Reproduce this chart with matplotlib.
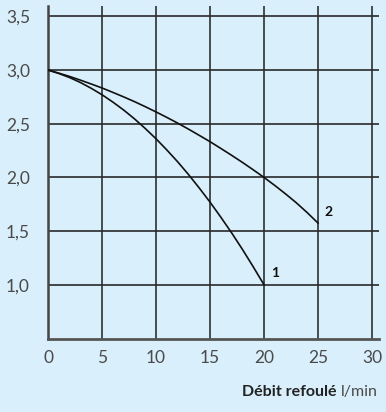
import matplotlib
matplotlib.use("Agg")
import matplotlib.pyplot as plt

flow_1 = [0, 1, 2, 3, 4, 5, 6, 7, 8, 9, 10, 11, 12, 13, 14, 15, 16, 17, 18, 19, 20]
head_1 = [3.0, 2.968, 2.93, 2.884, 2.83, 2.77, 2.702, 2.628, 2.546, 2.456, 2.36,
          2.256, 2.146, 2.028, 1.902, 1.77, 1.63, 1.484, 1.33, 1.168, 1.0]
flow_2 = [0, 1, 2, 3, 4, 5, 6, 7, 8, 9, 10, 11, 12, 13, 14, 15, 16, 17, 18, 19, 20,
          21, 22, 23, 24, 25]
head_2 = [3.0, 2.971, 2.94, 2.906, 2.87, 2.833, 2.792, 2.75, 2.706, 2.659, 2.61,
          2.559, 2.506, 2.45, 2.392, 2.333, 2.27, 2.206, 2.14, 2.071, 2.0,
          1.925, 1.846, 1.763, 1.672, 1.575]
x_ticks = [0, 5, 10, 15, 20, 25, 30]
y_ticks = [1.0, 1.5, 2.0, 2.5, 3.0, 3.5]
y_labels = ["1,0", "1,5", "2,0", "2,5", "3,0", "3,5"]

BG = "#d9effb"
TXT = "#4a4a4a"
plt.rcParams["font.family"] = ["Lato", "DejaVu Sans"]

fig = plt.figure(figsize=(3.86, 4.12), dpi=100, facecolor=BG)
ax = fig.add_axes([48 / 386, 1 - 338.5 / 412, (378.5 - 48) / 386, (338.5 - 5.6) / 412])
ax.set_facecolor(BG)
ax.set_xlim(0, 30.6)
ax.set_ylim(0.5, 3.6)

for x in x_ticks[1:]:
    ax.axvline(x, color="#3a3f42", lw=1.3, zorder=1)
for y in y_ticks:
    ax.axhline(y, color="#2a2a2a", lw=1.2, zorder=1)

ax.plot(flow_1, head_1, color="#111111", lw=1.2, zorder=3)
ax.plot(flow_2, head_2, color="#111111", lw=1.2, zorder=3)
ax.text(21.0, 1.11, "1", fontsize=10, fontweight="bold", color="#111111", ha="center", va="center")
ax.text(26.0, 1.68, "2", fontsize=10, fontweight="bold", color="#111111", ha="center", va="center")

for side in ["top", "right"]:
    ax.spines[side].set_visible(False)
ax.spines["left"].set_color("#444444")
ax.spines["left"].set_linewidth(1.8)
ax.spines["bottom"].set_color("#555555")
ax.spines["bottom"].set_linewidth(2)

ax.set_xticks(x_ticks)
ax.set_yticks(y_ticks)
ax.set_yticklabels(y_labels)
ax.tick_params(length=0, labelsize=12.5, labelcolor=TXT)
ax.tick_params(axis="x", pad=8)
ax.tick_params(axis="y", pad=13)

unit = fig.text(378 / 386, 1 - 392 / 412, "l/min", fontsize=11.5, color=TXT,
                ha="right", va="center")
fig.canvas.draw()
bb = unit.get_window_extent()
fig.text((bb.x0 - 5) / 386, 1 - 392 / 412, "Débit refoulé", fontsize=11.5, fontweight="bold",
         color="#222222", ha="right", va="center")

fig.savefig("out.png", dpi=100, facecolor=BG)
